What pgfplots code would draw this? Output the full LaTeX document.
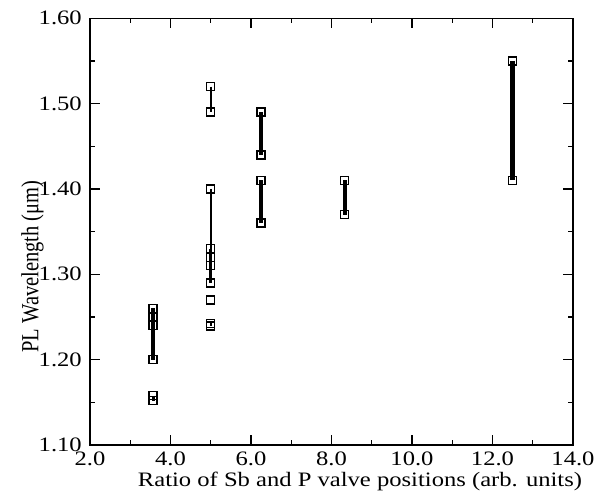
\documentclass[border=0pt]{standalone}
\usepackage{fontspec}
\setmainfont{Liberation Serif}
\usepackage{graphicx}
\usepackage{pgfplots}
\pgfplotsset{compat=1.18}
\newcommand{\sx}[1]{\scalebox{1.2}[1]{#1}}
\begin{document}
\begin{tikzpicture}
\useasboundingbox (-90pt,-56pt) rectangle (513pt,445pt);
\begin{axis}[
  scale only axis, width=483pt, height=426.7pt,
  xmin=2, xmax=14, ymin=1.1, ymax=1.6,
  xtick={2,4,6,8,10,12,14},
  xticklabels={\sx{2.0},\sx{4.0},\sx{6.0},\sx{8.0},\sx{10.0},\sx{12.0},\sx{14.0}},
  ytick={1.1,1.2,1.3,1.4,1.5,1.6},
  yticklabels={\sx{1.10},\sx{1.20},\sx{1.30},\sx{1.40},\sx{1.50},\sx{1.60}},
  minor xtick={3,5,7,9,11,13},
  minor ytick={1.15,1.25,1.35,1.45,1.55},
  tick align=inside,
  major tick length=10pt, minor tick length=5pt,
  every tick/.style={black, line width=1.3pt},
  axis line style={line width=1.3pt},
  font=\fontsize{20.5}{24}\selectfont,
  xticklabel style={anchor=base, inner sep=0pt, yshift=-20pt},
  yticklabel style={anchor=east, inner sep=0pt, xshift=-8pt},
  xlabel={\sx{Ratio of Sb and P valve positions (arb. units)}},
  xlabel style={at={(axis description cs:0.559,-0.0984)}, anchor=base, inner sep=0pt},
  ylabel={\scalebox{1}[1.2]{PL Wavelength (μm)}},
  ylabel style={at={(axis description cs:-0.119,0.418)}, anchor=center, inner sep=0pt},
  clip=false,
]
% error bars / connecting lines
\addplot[black, line width=3.5pt, no marks] coordinates {(3.57,1.26) (3.57,1.20)};
\addplot[black, line width=3pt, no marks] coordinates {(3.57,1.158) (3.57,1.152)};
\addplot[black, line width=2pt, no marks] coordinates {(5.0,1.52) (5.0,1.49)};
\addplot[black, line width=2pt, no marks] coordinates {(5.0,1.40) (5.0,1.29)};
\addplot[black, line width=3.5pt, no marks] coordinates {(5.0,1.33) (5.0,1.29)};
\addplot[black, line width=2pt, no marks] coordinates {(5.0,1.2425) (5.0,1.2395)};
\addplot[black, line width=4pt, no marks] coordinates {(6.25,1.49) (6.25,1.44)};
\addplot[black, line width=4pt, no marks] coordinates {(6.25,1.41) (6.25,1.36)};
\addplot[black, line width=4pt, no marks] coordinates {(8.33,1.41) (8.33,1.37)};
\addplot[black, line width=4.5pt, no marks] coordinates {(12.5,1.55) (12.5,1.41)};
% data points
\addplot[only marks, mark=square, mark size=4pt, mark options={black, line width=1.4pt}] coordinates {
(3.57,1.26) (3.57,1.25) (3.57,1.24) (3.57,1.20) (3.57,1.158) (3.57,1.152)
(5.0,1.52) (5.0,1.49) (5.0,1.40) (5.0,1.33) (5.0,1.32) (5.0,1.31) (5.0,1.29) (5.0,1.27) (5.0,1.2425) (5.0,1.2395)
(6.25,1.49) (6.25,1.44) (6.25,1.41) (6.25,1.36)
(8.33,1.41) (8.33,1.37)
(12.5,1.55) (12.5,1.41)
};
\end{axis}
\end{tikzpicture}
\end{document}
